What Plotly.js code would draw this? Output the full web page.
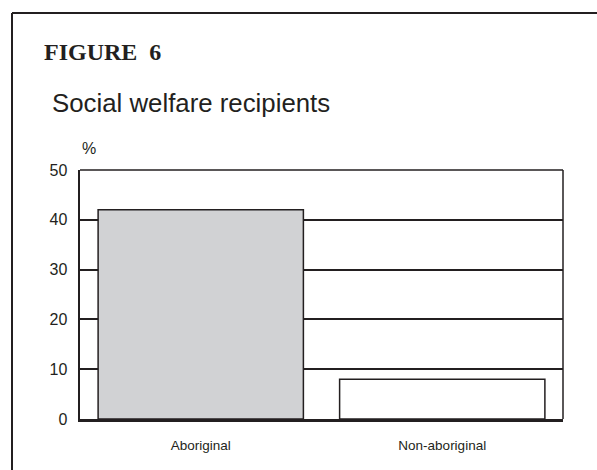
<!DOCTYPE html>
<html>
<head>
<meta charset="utf-8">
<script src="https://cdn.plot.ly/plotly-3.0.1.min.js"></script>
<style>html,body{margin:0;padding:0;background:#fff;}#chart{width:597px;height:470px;}</style>
</head>
<body>
<div id="chart"></div>
<script>
const categories = ["Aboriginal", "Non-aboriginal"];
const values = [42, 8];
const barColors = ["#d1d2d4", "#ffffff"];
const yTicks = [0, 10, 20, 30, 40, 50];
const figureLabel = "FIGURE\u00a0\u00a06";
const chartTitle = "Social welfare recipients";
const unitLabel = "%";

const ink = "#231f20";
const L = 80, R = 34, T = 170, B = 51;
const W = 597, H = 470;
const pw = W - L - R, ph = H - T - B;
const px = x => (x - L) / pw;
const py = y => (H - B - y) / ph;

const trace = {
  type: "bar",
  x: categories,
  y: values,
  marker: { color: barColors, line: { color: ink, width: 1.5 } },
  hoverinfo: "none"
};

const layout = {
  width: W, height: H,
  margin: { l: L, r: R, t: T, b: B, pad: 0 },
  paper_bgcolor: "#fff",
  plot_bgcolor: "#fff",
  showlegend: false,
  bargap: 0.15,
  font: { family: "Liberation Sans, Arial, sans-serif", color: ink },
  xaxis: {
    type: "category",
    showgrid: false,
    showline: true, linecolor: ink, linewidth: 2.5, mirror: false,
    ticks: "", tickfont: { size: 13.5, color: ink },
    ticklabelstandoff: 12,
    fixedrange: true
  },
  yaxis: {
    range: [0, 50],
    tickvals: yTicks,
    ticktext: yTicks.map(String),
    showgrid: true, gridcolor: ink, gridwidth: 2,
    zeroline: false,
    showline: true, linecolor: ink, linewidth: 2.5, mirror: false,
    ticks: "", tickfont: { size: 16, color: ink },
    ticklabelstandoff: 7,
    fixedrange: true
  },
  annotations: [
    { text: figureLabel, xref: "paper", yref: "paper", x: px(42), y: py(52), xanchor: "left", yanchor: "middle",
      showarrow: false, font: { family: "Liberation Serif, Times New Roman, serif", size: 24, color: ink, weight: "bold" } },
    { text: chartTitle, xref: "paper", yref: "paper", x: px(50), y: py(103), xanchor: "left", yanchor: "middle",
      showarrow: false, font: { size: 25.8, color: ink } },
    { text: unitLabel, xref: "paper", yref: "paper", x: px(80), y: py(148), xanchor: "left", yanchor: "middle",
      showarrow: false, font: { size: 16, color: ink } }
  ],
  shapes: [
    { type: "line", xref: "paper", yref: "paper", x0: 0, x1: 1, y0: 1, y1: 1, line: { color: ink, width: 1.5 } },
    { type: "line", xref: "paper", yref: "paper", x0: 1, x1: 1, y0: 0, y1: 1, line: { color: ink, width: 1.5 } },
    { type: "line", xref: "paper", yref: "paper", x0: px(12), x1: px(12), y0: py(13), y1: py(475), line: { color: ink, width: 2 } },
    { type: "line", xref: "paper", yref: "paper", x0: px(12), x1: px(600), y0: py(13), y1: py(13), line: { color: ink, width: 2 } }
  ]
};

Plotly.newPlot("chart", [trace], layout, { staticPlot: true, displayModeBar: false });
</script>
</body>
</html>
